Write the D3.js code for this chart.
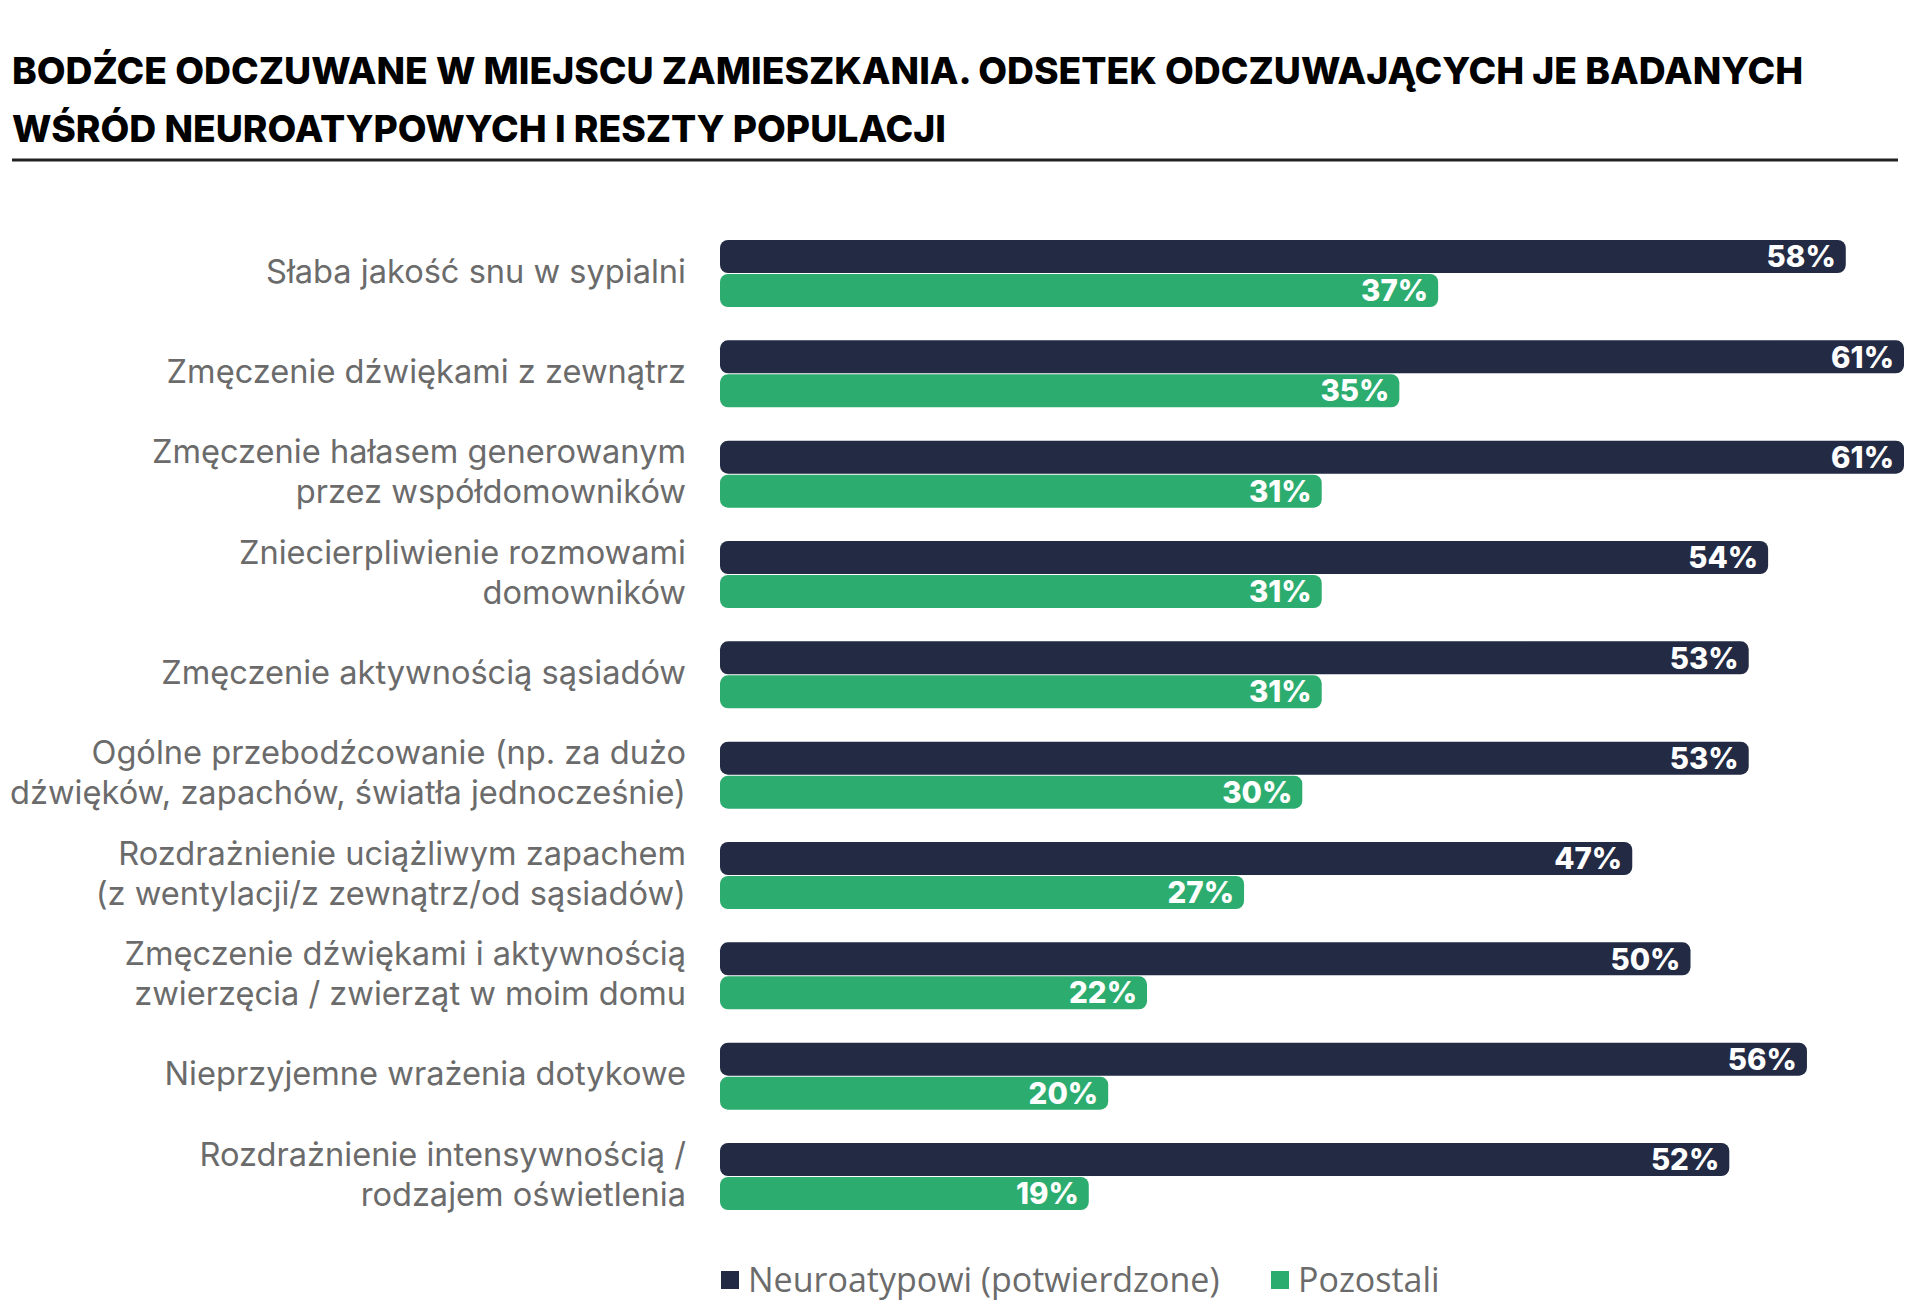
<!DOCTYPE html>
<html><head><meta charset="utf-8">
<script src="https://cdn.jsdelivr.net/npm/d3@7"></script>
<style>
html,body{margin:0;padding:0;background:#fff;}
svg{display:block;}
</style></head>
<body>
<script>
const titleLines = [
  "BODŹCE ODCZUWANE W MIEJSCU ZAMIESZKANIA. ODSETEK ODCZUWAJĄCYCH JE BADANYCH",
  "WŚRÓD NEUROATYPOWYCH I RESZTY POPULACJI"
];
const categories = [
  ["Słaba jakość snu w sypialni"],
  ["Zmęczenie dźwiękami z zewnątrz"],
  ["Zmęczenie hałasem generowanym", "przez współdomowników"],
  ["Zniecierpliwienie rozmowami", "domowników"],
  ["Zmęczenie aktywnością sąsiadów"],
  ["Ogólne przebodźcowanie (np. za dużo", "dźwięków, zapachów, światła jednocześnie)"],
  ["Rozdrażnienie uciążliwym zapachem", "(z wentylacji/z zewnątrz/od sąsiadów)"],
  ["Zmęczenie dźwiękami i aktywnością", "zwierzęcia / zwierząt w moim domu"],
  ["Nieprzyjemne wrażenia dotykowe"],
  ["Rozdrażnienie intensywnością /", "rodzajem oświetlenia"]
];
const seriesNames = ["Neuroatypowi (potwierdzone)", "Pozostali"];
const neuroatypowi = [58, 61, 61, 54, 53, 53, 47, 50, 56, 52];
const pozostali = [37, 35, 31, 31, 31, 30, 27, 22, 20, 19];
const colors = ["#222a44", "#2dac6f"];

const W = 1910, H = 1307;
const svg = d3.select("body").append("svg").attr("width", W).attr("height", H);

// Title
const title = svg.append("g");
title.selectAll("text").data(titleLines).join("text")
  .attr("x", 12).attr("y", (d,i) => 84 + i*58)
  .attr("font-family", "Inter, 'DejaVu Sans', sans-serif")
  .attr("font-weight", 800).attr("font-size", 37.3)
  .attr("fill", "#000").text(d => d);
svg.append("line").attr("x1", 12).attr("x2", 1898).attr("y1", 160).attr("y2", 160)
  .attr("stroke", "#222").attr("stroke-width", 3);

const idx = d3.range(categories.length);
const x = d3.scaleLinear().domain([0, 61]).range([720, 1904]);
const y = d3.scaleBand().domain(idx).range([240, 1210]).paddingInner(0.332).paddingOuter(0);
const ySub = d3.scaleBand().domain([0, 1]).range([0, y.bandwidth()]).padding(0);

const data = idx.map(i => ({i, vals: [neuroatypowi[i], pozostali[i]]}));

const groups = svg.append("g").selectAll("g").data(data).join("g")
  .attr("transform", d => `translate(0,${y(d.i)})`);

groups.selectAll("rect").data(d => d.vals.map((v, s) => ({v, s}))).join("rect")
  .attr("x", x(0)).attr("y", d => ySub(d.s) + (d.s === 1 ? 0.5 : 0))
  .attr("width", d => x(d.v) - x(0))
  .attr("height", ySub.bandwidth() - 0.5)
  .attr("rx", 8).attr("ry", 8)
  .attr("fill", d => colors[d.s]);

groups.selectAll("text.val").data(d => d.vals.map((v, s) => ({v, s}))).join("text")
  .attr("class", "val")
  .attr("x", d => x(d.v) - 10)
  .attr("y", d => ySub(d.s) + ySub.bandwidth()/2)
  .attr("dy", "0.36em")
  .attr("text-anchor", "end")
  .attr("font-family", "Inter, 'Open Sans', sans-serif")
  .attr("font-weight", 800).attr("font-size", 29.5)
  .attr("fill", "#fff").text(d => d.v + "%");

// Category labels
groups.each(function(d) {
  const lines = categories[d.i];
  const g = d3.select(this);
  const cy = y.bandwidth()/2;
  const lh = 40;
  g.selectAll("text.cat").data(lines).join("text")
    .attr("class", "cat")
    .attr("x", 686)
    .attr("y", (l, j) => cy + (j - (lines.length - 1)/2) * lh)
    .attr("dy", "0.28em")
    .attr("text-anchor", "end")
    .attr("font-family", "Inter, 'Noto Sans', sans-serif")
    .attr("font-size", 32.6).attr("fill", "#6b6b6b")
    .text(l => l);
});

// Legend
const legend = svg.append("g").attr("transform", "translate(721,1280)");
const lx = [0, 550];
const li = legend.selectAll("g").data(seriesNames).join("g")
  .attr("transform", (d,i) => `translate(${lx[i]},0)`);
li.append("rect").attr("x", 0).attr("y", -9).attr("width", 18).attr("height", 18)
  .attr("fill", (d,i) => colors[i]);
li.append("text").attr("x", 27).attr("y", 0).attr("dy", "0.36em")
  .attr("font-family", "'Open Sans', sans-serif").attr("font-size", 34)
  .attr("fill", "#6b6b6b").text(d => d);
</script>
</body></html>
